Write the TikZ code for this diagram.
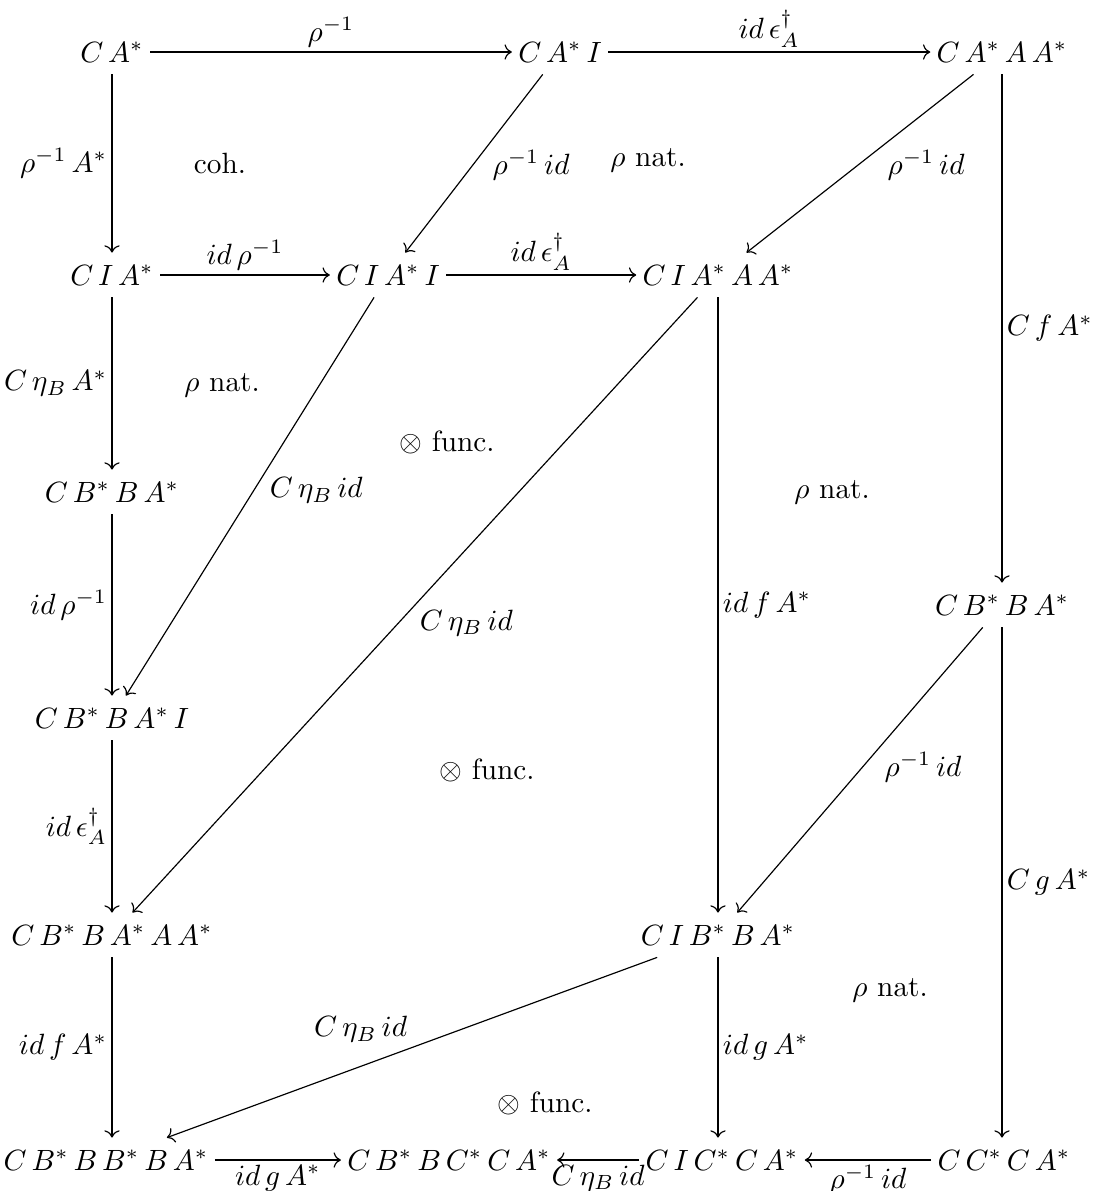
\documentclass[tikz,border=0pt]{standalone}
\usepackage{amsmath, amssymb}
\usetikzlibrary{arrows.meta, quotes}

\begin{document}
\begin{tikzpicture}[x=0.0120cm, y=-0.0120cm, auto, main/.style = {inner xsep=2pt, inner ysep=4pt}, note/.style = {inner sep=0pt}, every edge quotes/.style = {inner sep=1.5pt}]
\useasboundingbox (0,0) rectangle (1094,1191);
% objects
\node[main] (1) at (112,52) {$C\,A^*$};
\node[main] (2) at (560,52) {$C\,A^*\,I$};
\node[main] (3) at (1002,52) {$C\,A^*\,A\,A^*$};
\node[main] (4) at (112,275) {$C\,I\,A^*$};
\node[main] (5) at (388,275) {$C\,I\,A^*\,I$};
\node[main] (6) at (718,275) {$C\,I\,A^*\,A\,A^*$};
\node[main] (7) at (112,492) {$C\,B^*\,B\,A^*$};
\node[main] (8) at (1002,605) {$C\,B^*\,B\,A^*$};
\node[main] (9) at (112,718) {$C\,B^*\,B\,A^*\,I$};
\node[main] (10) at (112,935) {$C\,B^*\,B\,A^*\,A\,A^*$};
\node[main] (11) at (718,935) {$C\,I\,B^*\,B\,A^*$};
\node[main] (12) at (106,1160) {$C\,B^*\,B\,B^*\,B\,A^*$};
\node[main] (13) at (449,1160) {$C\,B^*\,B\,C^*\,C\,A^*$};
\node[main] (14) at (722,1160) {$C\,I\,C^*\,C\,A^*$};
\node[main] (15) at (1004,1160) {$C\,C^*\,C\,A^*$};
% arrows
\draw[->] (1) to["$\rho^{-1}$"] (2);
\draw[->] (2) to["$id\,\epsilon_A^\dagger$"] (3);
\draw[->] (1) to["$\rho^{-1}\,A^*$"'] (4);
\draw[->] (2) to["$\rho^{-1}\,id$" pos=0.4] (5);
\draw[->] (3) to["$\rho^{-1}\,id$" pos=0.4] (6);
\draw[->] (3) to["$C\,f\,A^*$"] (8);
\draw[->] (4) to["$id\,\rho^{-1}$"] (5);
\draw[->] (5) to["$id\,\epsilon_A^\dagger$"] (6);
\draw[->] (4) to["$C\,\eta_B\,A^*$"'] (7);
\draw[->] (5) to["$C\,\eta_B\,id$" pos=0.44] (9);
\draw[->] (6) to["$C\,\eta_B\,id$"] (10);
\draw[->] (6) to["$id\,f\,A^*$"] (11);
\draw[->] (7) to["$id\,\rho^{-1}$"'] (9);
\draw[->] (9) to["$id\,\epsilon_A^\dagger$"'] (10);
\draw[->] (8) to["$\rho^{-1}\,id$" pos=0.42] (11);
\draw[->] (8) to["$C\,g\,A^*$"] (8 |- 15.north);
\draw[->] (10) to["$id\,f\,A^*$"'] (10 |- 12.north);
\draw[->] (11) to["$C\,\eta_B\,id$"'] (12);
\draw[->] (11) to["$id\,g\,A^*$"] (11 |- 14.north);
\draw[->] (12) to["$id\,g\,A^*$"'] (13);
\draw[->] (14) to["$C\,\eta_B\,id$"] (13);
\draw[->] (15) to["$\rho^{-1}\,id$"] (14);
% cells
\node[note] (c1) at (220,163) {coh.};
\node[note] (c2) at (648,160) {$\rho$ nat.};
\node[note] (c3) at (222,385) {$\rho$ nat.};
\node[note] (c4) at (447,442) {$\otimes$ func.};
\node[note] (c5) at (832,492) {$\rho$ nat.};
\node[note] (c6) at (487,770) {$\otimes$ func.};
\node[note] (c7) at (890,990) {$\rho$ nat.};
\node[note] (c8) at (545,1103) {$\otimes$ func.};
\end{tikzpicture}
\end{document}
